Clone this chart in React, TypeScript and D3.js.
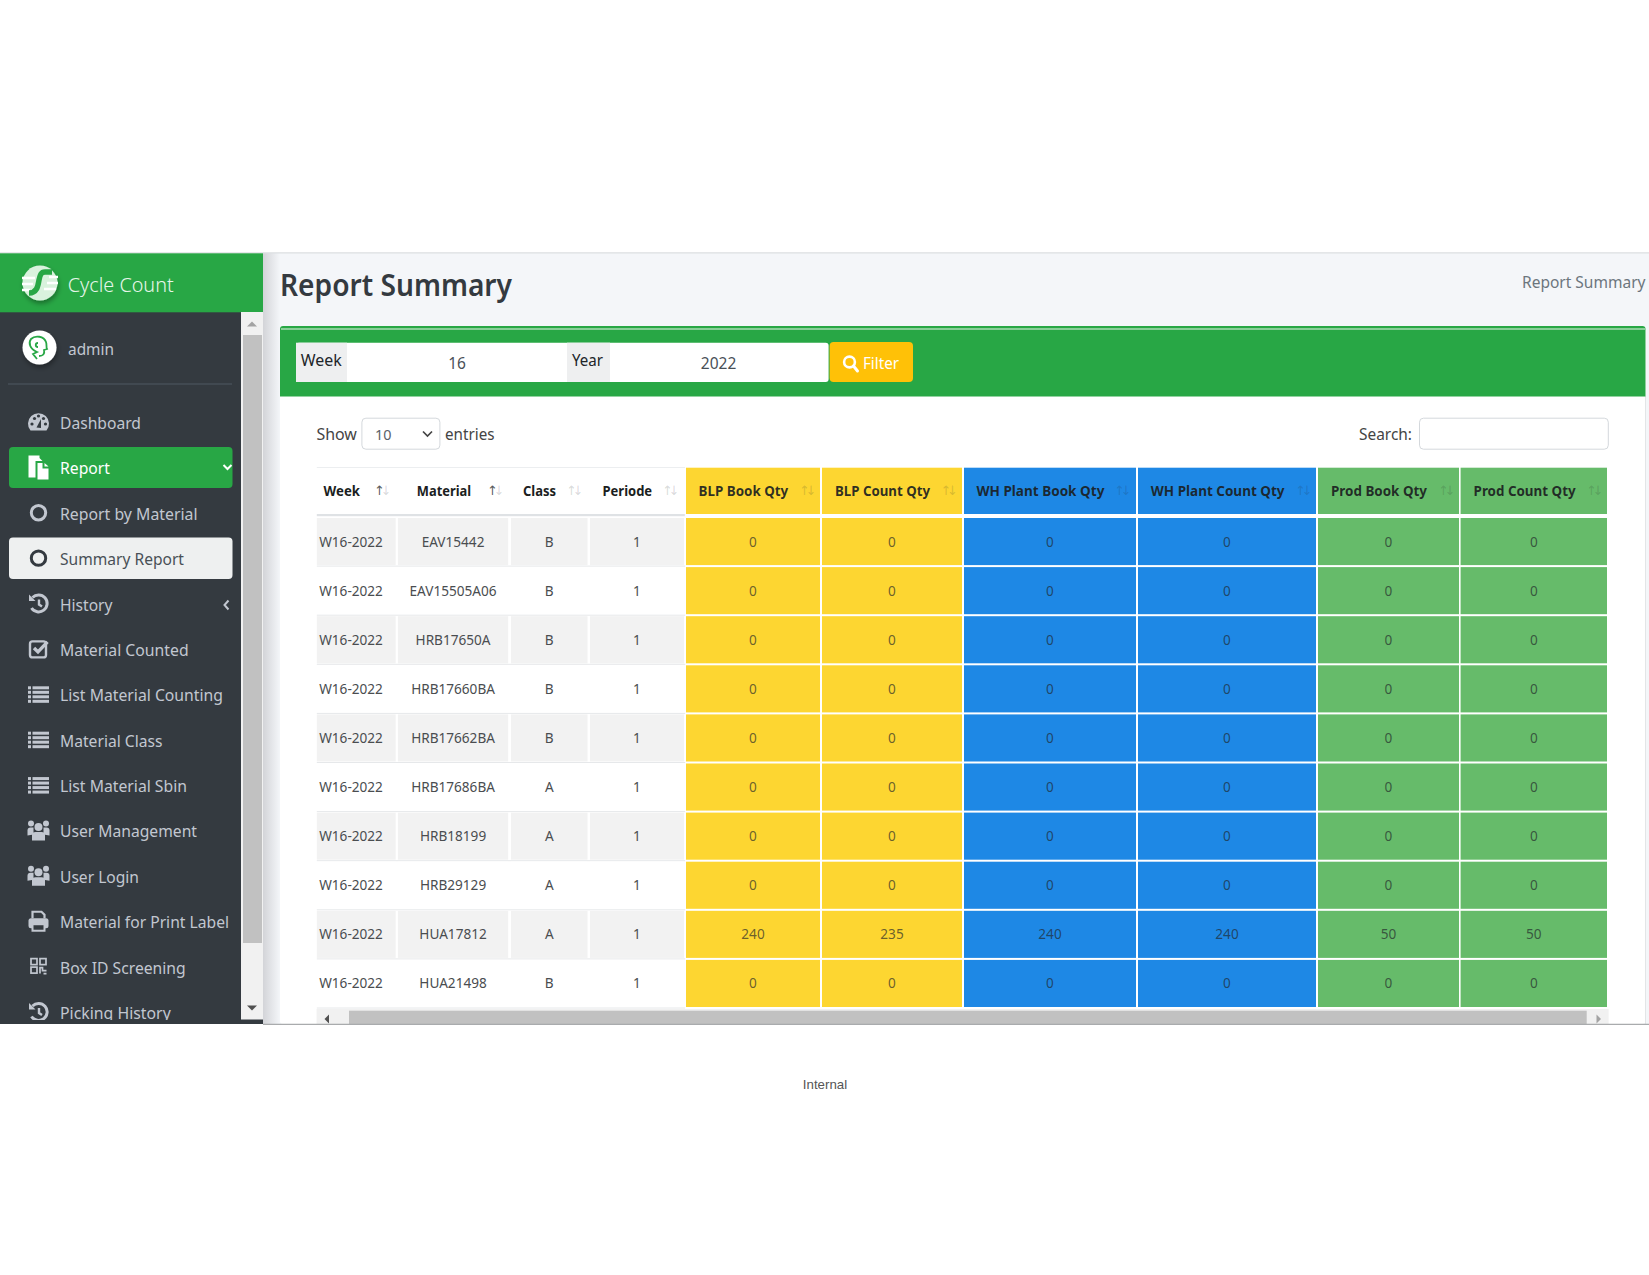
import React from "react";
import * as d3 from "d3";

const weeks = ["W16-2022","W16-2022","W16-2022","W16-2022","W16-2022","W16-2022","W16-2022","W16-2022","W16-2022","W16-2022"];
const materials = ["EAV15442","EAV15505A06","HRB17650A","HRB17660BA","HRB17662BA","HRB17686BA","HRB18199","HRB29129","HUA17812","HUA21498"];
const classes = ["B","B","B","B","B","A","A","A","A","B"];
const periods = [1,1,1,1,1,1,1,1,1,1];
const blpBook = [0,0,0,0,0,0,0,0,240,0];
const blpCount = [0,0,0,0,0,0,0,0,235,0];
const whBook = [0,0,0,0,0,0,0,0,240,0];
const whCount = [0,0,0,0,0,0,0,0,240,0];
const prodBook = [0,0,0,0,0,0,0,0,50,0];
const prodCount = [0,0,0,0,0,0,0,0,50,0];
const headers = ["Week","Material","Class","Periode","BLP Book Qty","BLP Count Qty","WH Plant Book Qty","WH Plant Count Qty","Prod Book Qty","Prod Count Qty"];
const menuLabels = ["Dashboard","Report","Report by Material","Summary Report","History","Material Counted","List Material Counting","Material Class","List Material Sbin","User Management","User Login","Material for Print Label","Box ID Screening","Picking History"];

const columnsData: (string | number)[][] = [weeks, materials, classes, periods, blpBook, blpCount, whBook, whCount, prodBook, prodCount];

// layout
const colX: [number, number][] = [[316.8,395.7],[397.9,508.2],[511,587.5],[590,684],[686,820],[822,962],[964,1136],[1138,1316],[1318,1459],[1460.6,1607]];
const headerX = [323.6,416.8,523,602.5,698.6,835,976.4,1150.8,1331,1473.6];
const headerW = [36.4,54.3,33,49.6,89.6,95,128,133.7,96,102];
const arrowX = [374,487,566,662,799,940.5,1114,1295,1438,1586];
const colFill = ["","","","","#fdd631","#fdd631","#1e88e5","#1e88e5","#66bb6a","#66bb6a"];
const menuW = [81,50,137.5,124,52.5,128.6,163,102.5,127,137,79,169,125.7,110.7];
const FONT = "'Noto Sans', sans-serif";
const GREEN = "#28a745";

const rowY = d3.scaleBand<number>().domain(d3.range(materials.length)).range([518, 1007]).paddingInner(2 / 49).paddingOuter(0);
const menuY = d3.scalePoint<string>().domain(menuLabels).range([423, 1013]);

function Icon({ kind, c, dark }: { kind: string; c: string; dark: string }) {
  switch (kind) {
    case "Dashboard":
      return <g><path d="M-8 8.5 A10.5 10.5 0 1 1 8 8.5 Z" fill={c} />{[[-6.5,2],[-4,-3.5],[0,-6],[5,-3.5],[7,2]].map((p, i) => <circle key={i} cx={p[0]} cy={p[1]} r={1.6} fill={dark} />)}<path d="M-2 5.5 L2.5 -3 L2.5 6 Z" fill={dark} /></g>;
    case "Report":
      return <g><path d="M-10 -12 H1 V-9.5 L4 -6.5 H-3 V10 H-10 Z" fill={c} /><path d="M-1 -4.5 H4 V1 H10 V12 H-1 Z" fill={c} /><path d="M6 -4.5 L10 -1 H6 Z" fill={c} /></g>;
    case "Report by Material":
    case "Summary Report":
      return <circle r={7.2} fill="none" stroke={c} strokeWidth={3} />;
    case "History":
    case "Picking History":
      return <g><path d="M-6 -6 A8.5 8.5 0 1 1 -7 4.5" fill="none" stroke={c} strokeWidth={3} /><path d="M-9.5 -9 V-2.5 H-3 Z" fill={c} /><path d="M0.5 -4 V1 L3.5 3" fill="none" stroke={c} strokeWidth={2.4} /></g>;
    case "Material Counted":
      return <g><rect x={-8.5} y={-7.5} width={16} height={16} rx={2.5} fill="none" stroke={c} strokeWidth={2.4} /><path d="M-4.5 -1 L-0.5 3 L9 -7" fill="none" stroke={c} strokeWidth={3.4} /></g>;
    case "List Material Counting":
    case "Material Class":
    case "List Material Sbin":
      return <g fill={c}>{[-8,-3.5,1,5.5].map((y) => <g key={y}><rect x={-10.5} y={y} width={3} height={3} /><rect x={-6} y={y} width={16.5} height={3} /></g>)}</g>;
    case "User Management":
    case "User Login":
      return <g fill={c}><circle cx={-7.5} cy={-7} r={3} /><circle cx={7.5} cy={-7} r={3} /><circle cx={0} cy={-3.5} r={4} /><path d="M-11 5 V0 Q-11 -3 -8 -3 H-5 V4 Z" /><path d="M11 5 V0 Q11 -3 8 -3 H5 V4 Z" /><path d="M-6.5 10 V4 Q-6.5 1.5 -3 1.5 H3 Q6.5 1.5 6.5 4 V10 Z" /></g>;
    case "Material for Print Label":
      return <g><path d="M-6 -3 V-9.5 H3 L6 -6.5 V-3" fill="none" stroke={c} strokeWidth={2.2} /><rect x={-10} y={-3} width={20} height={10} rx={2.5} fill={c} /><rect x={-6} y={3} width={12} height={6.5} fill={dark} stroke={c} strokeWidth={2} /></g>;
    case "Box ID Screening":
      return <g fill="none" stroke={c} strokeWidth={1.7}><rect x={-7.5} y={-8} width={6} height={6} /><rect x={1.5} y={-8} width={6} height={6} /><rect x={-7.5} y={0.5} width={6} height={6} /><path d="M1.5 7 V1 H4 V4 H8 M5 7 H8" /></g>;
    default:
      return null;
  }
}

function Row({ i }: { i: number }) {
  const y = rowY(i)!;
  const h = rowY.bandwidth();
  const cy = y + h / 2;
  return (
    <g>
      {colX.map(([a, b], c) => {
        const fill = colFill[c] || (i % 2 === 0 ? "#f2f2f2" : "#ffffff");
        return <rect key={c} x={a} y={y} width={b - a} height={h} fill={fill} />;
      })}
      <line x1={316.8} x2={685} y1={y + h + 1} y2={y + h + 1} stroke="#e6e8ea" strokeWidth={1} />
      {columnsData.map((col, c) => {
        const [a, b] = colX[c];
        const left = c === 0;
        const coloured = c >= 4;
        return (
          <text key={c} x={left ? a + 2.4 : (a + b) / 2} y={cy + 5} textAnchor={left ? "start" : "middle"} fontSize={13.6} fontFamily={FONT}
            fill={coloured ? "#212529" : "#4a4d50"} fillOpacity={coloured ? 0.68 : 1}>
            {col[i]}
          </text>
        );
      })}
    </g>
  );
}

export default function App() {
  const menuC = "#c2c7d0";
  const dark = "#343a40";
  return (
    <svg width={1649} height={1275} viewBox="0 0 1649 1275" style={{ position: "absolute", left: 0, top: 0, display: "block", background: "#fff" }}>
      <defs>
        <linearGradient id="sideShadow" x1="0" x2="1" y1="0" y2="0">
          <stop offset="0" stopColor="#d3d4d8" />
          <stop offset="1" stopColor="#f4f6f9" />
        </linearGradient>
        <clipPath id="side"><rect x={0} y={312} width={241} height={708} /></clipPath>
        <filter id="soft" x="-30%" y="-30%" width="170%" height="170%"><feDropShadow dx={1} dy={3} stdDeviation={2.5} floodColor="#000" floodOpacity={0.35} /></filter>
      </defs>

      {/* app frame */}
      <rect x={263} y={252.5} width={1386} height={771.5} fill="#f4f6f9" />
      <rect x={263} y={253} width={17} height={771} fill="url(#sideShadow)" />
      <line x1={0} x2={1649} y1={252.8} y2={252.8} stroke="#dcdfe2" strokeWidth={1.2} />

      {/* title */}
      <text x={280} y={295.6} fontSize={31} fontWeight={600} fontFamily={FONT} fill={dark} textLength={232} lengthAdjust="spacingAndGlyphs">Report Summary</text>
      <text x={1522} y={288} fontSize={15.6} fontFamily={FONT} fill="#6c757d" textLength={123.5} lengthAdjust="spacingAndGlyphs">Report Summary</text>

      {/* card */}
      <rect x={280} y={326} width={1365.5} height={698} fill="#fff" rx={3} />
      <line x1={1645.5} x2={1645.5} y1={396} y2={1024} stroke="#e3e5e7" />
      <path d="M280 396.5 V329 Q280 326 283 326 H1642.5 Q1645.5 326 1645.5 329 V396.5 Z" fill={GREEN} />
      <line x1={281} x2={1645} y1={329} y2={329} stroke="#e8f6eb" strokeWidth={1} />

      {/* filter form */}
      <rect x={296} y={342.7} width={532.6} height={39.3} fill="#fff" rx={3} />
      <rect x={296} y={342.7} width={51} height={39.3} fill="#eeeff0" />
      <text x={300.7} y={366} fontSize={16.8} fontFamily={FONT} fill="#212529" textLength={41} lengthAdjust="spacingAndGlyphs">Week</text>
      <text x={457} y={369} textAnchor="middle" fontSize={15.5} fontFamily={FONT} fill="#495057">16</text>
      <rect x={567} y={342.7} width={43} height={39.3} fill="#eeeff0" />
      <text x={572} y={366} fontSize={16.8} fontFamily={FONT} fill="#212529" textLength={31} lengthAdjust="spacingAndGlyphs">Year</text>
      <text x={718.6} y={369} textAnchor="middle" fontSize={15.5} fontFamily={FONT} fill="#495057">2022</text>
      <rect x={829.6} y={342} width={83.4} height={40} rx={4} fill="#ffc107" />
      <circle cx={849.5} cy={362} r={5.4} fill="none" stroke="#fff" strokeWidth={2.6} />
      <line x1={853.5} y1={366} x2={857.5} y2={371} stroke="#fff" strokeWidth={3} strokeLinecap="round" />
      <text x={863} y={369} fontSize={16} fontFamily={FONT} fill="#fff" textLength={36} lengthAdjust="spacingAndGlyphs">Filter</text>

      {/* datatable controls */}
      <text x={316.4} y={440} fontSize={16} fontFamily={FONT} fill="#444" textLength={40.5} lengthAdjust="spacingAndGlyphs">Show</text>
      <rect x={361.9} y={418.2} width={78} height={31} rx={4} fill="#fff" stroke="#d4d8dc" />
      <text x={375} y={439.5} fontSize={14.4} fontFamily={FONT} fill="#5a6168">10</text>
      <path d="M423 431.5 L427.5 436 L432 431.5" fill="none" stroke="#444" strokeWidth={1.7} />
      <text x={445} y={440} fontSize={16} fontFamily={FONT} fill="#444" textLength={49.5} lengthAdjust="spacingAndGlyphs">entries</text>
      <text x={1359} y={440} fontSize={16} fontFamily={FONT} fill="#444" textLength={53} lengthAdjust="spacingAndGlyphs">Search:</text>
      <rect x={1419.5} y={418.2} width={188.8} height={31} rx={4} fill="#fff" stroke="#d4d8dc" />

      {/* table header */}
      <line x1={316.8} x2={685} y1={467.5} y2={467.5} stroke="#eceef0" />
      {colX.map(([a, b], c) => (
        colFill[c] ? <rect key={c} x={a} y={467.7} width={b - a} height={46.3} fill={colFill[c]} /> : null
      ))}
      <rect x={316.8} y={514} width={368} height={2.2} fill="#dfe2e5" />
      {headers.map((h, c) => (
        <g key={h}>
          <text x={headerX[c]} y={495.5} fontSize={13.6} fontWeight={700} fontFamily={FONT} fill="#1b1e21" fillOpacity={c >= 4 ? 0.92 : 1} textLength={headerW[c]} lengthAdjust="spacingAndGlyphs">{h}</text>
          <text x={arrowX[c]} y={495} fontSize={13} letterSpacing={-4.4} fontFamily="'DejaVu Sans', sans-serif" fill="#212529">
            <tspan fillOpacity={c < 2 ? 0.75 : 0.18}>↑</tspan>
            <tspan fillOpacity={0.18}>↓</tspan>
          </text>
        </g>
      ))}

      {/* table rows */}
      {materials.map((_, i) => <Row key={i} i={i} />)}

      {/* horizontal scrollbar */}
      <rect x={316.6} y={1009} width={1292} height={15} fill="#f1f1f1" />
      <rect x={349} y={1010.7} width={1237.7} height={13.3} fill="#c1c1c1" />
      <path d="M324.5 1019 L329 1014.5 V1023.5 Z" fill="#505050" />
      <path d="M1601 1019 L1596.5 1014.5 V1023.5 Z" fill="#a3a3a3" />

      {/* sidebar */}
      <rect x={0} y={312} width={263} height={712} fill={dark} />
      <rect x={0} y={253.3} width={263} height={59} fill={GREEN} />
      <g transform="translate(40,283)">
        <circle r={17.5} fill="#d9f2dd" filter="url(#soft)" />
        <path d="M-18 -5 H-5 M-18 1 H-7 M-18 7 H-10 M9 -6 H18 M7 0 H18 M4 6 H16" stroke="#ffffff" strokeWidth={2.4} />
        <path d="M12 -11 H5 C1 -11 0 -8 -1 -3 C-2 3 -3 10 -11 10" fill="none" stroke={GREEN} strokeWidth={5.5} />
      </g>
      <text x={67.7} y={291.5} fontSize={20} fontFamily={FONT} fontWeight={300} fill="#e6f6ea" textLength={106} lengthAdjust="spacingAndGlyphs">Cycle Count</text>

      <g clipPath="url(#side)">
        <circle cx={39.5} cy={347.5} r={17} fill="#fff" filter="url(#soft)" />
        <path d="M37 359 L33 354 L37 352 C30 349 28 343 31 339 C35 335 44 336 46 342 C47 345 46 347 47 349 L44 350 C45 354 43 356 39 356 M38 343 C35 343 35 347 38 347" fill="none" stroke={GREEN} strokeWidth={1.8} />
        <text x={68} y={354.6} fontSize={16.6} fontFamily={FONT} fill={menuC} textLength={46} lengthAdjust="spacingAndGlyphs">admin</text>
        <line x1={8} x2={232} y1={384} y2={384} stroke="#4f5962" />

        <rect x={9} y={447} width={223.5} height={41} rx={4} fill={GREEN} />
        <rect x={9} y={537.5} width={223.5} height={41.5} rx={4} fill="#eef0f0" />
        {menuLabels.map((m, i) => {
          const cy = menuY(m)!;
          const isActive = m === "Report";
          const isSelected = m === "Summary Report";
          const c = isActive ? "#ffffff" : isSelected ? dark : menuC;
          return (
            <g key={m}>
              <g transform={`translate(38.5,${cy - 1})`}><Icon kind={m} c={isActive ? "#fff" : c} dark={isActive ? GREEN : dark} /></g>
              <text x={60} y={cy + 6} fontSize={16} fontFamily={FONT} fill={isSelected ? "#495057" : c} textLength={menuW[i]} lengthAdjust="spacingAndGlyphs">{m}</text>
            </g>
          );
        })}
        <path d="M223.5 465 L227.5 469 L231.5 465" fill="none" stroke="#fff" strokeWidth={2} />
        <path d="M228.5 600.5 L224.5 605 L228.5 609.5" fill="none" stroke={menuC} strokeWidth={2} />
      </g>

      {/* sidebar scrollbar */}
      <rect x={241} y={312} width={22} height={707.5} fill="#f1f1f1" />
      <rect x={243} y={335} width={19} height={608} fill="#c1c1c1" />
      <path d="M247 326.5 L252 321.5 L257 326.5 Z" fill="#a3a3a3" />
      <path d="M247 1005.5 L252 1010.5 L257 1005.5 Z" fill="#505050" />

      <line x1={263} x2={1649} y1={1024.3} y2={1024.3} stroke="#a9abad" strokeWidth={1.2} />

      <text x={825} y={1089} textAnchor="middle" fontSize={13.3} fontFamily="'Liberation Sans', Arial, sans-serif" fill="#555">Internal</text>
    </svg>
  );
}
